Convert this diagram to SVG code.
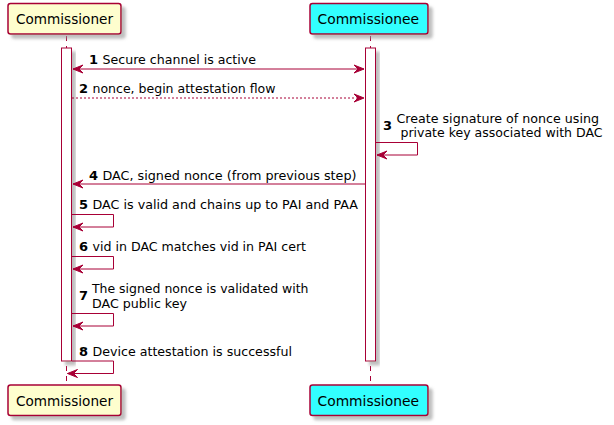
<svg xmlns="http://www.w3.org/2000/svg" width="614" height="425" viewBox="0 0 614 425">
<style>
.box{stroke:#A80036;stroke-width:1.5;filter:url(#sh)}
.act{fill:#FFFFFF;stroke:#A80036;stroke-width:1;filter:url(#sh)}
.life{stroke:#A80036;stroke-width:1;stroke-dasharray:5,5;fill:none}
.msg{stroke:#A80036;stroke-width:1;fill:none}
.dash{stroke-dasharray:2,2}
.head{fill:#A80036;stroke:#A80036;stroke-width:1}
.pn{font-family:"DejaVu Sans",sans-serif;font-size:14px;fill:#000}
.t{font-family:"DejaVu Sans",sans-serif;font-size:13px;fill:#000}
.n{font-family:"DejaVu Sans",sans-serif;font-size:13px;font-weight:bold;fill:#000}
</style>
<defs>
<filter id="sh" x="-20%" y="-20%" width="160%" height="160%">
<feGaussianBlur in="SourceAlpha" stdDeviation="1.5" result="b"/>
<feOffset in="b" dx="4" dy="4" result="o"/>
<feColorMatrix in="o" type="matrix" values="0 0 0 0 0.3  0 0 0 0 0.3  0 0 0 0 0.3  0 0 0 0.6 0" result="c"/>
<feMerge><feMergeNode in="c"/><feMergeNode in="SourceGraphic"/></feMerge>
</filter>
</defs>
<rect width="614" height="425" fill="#FFFFFF"/>
<g id="lifelines">
<line class="life" x1="66.5" y1="36" x2="66.5" y2="385"/>
<line class="life" x1="370.5" y1="36" x2="370.5" y2="385"/>
</g>
<g id="commissioner">
<rect class="box" x="8" y="3.5" width="113" height="30.5" rx="2.5" fill="#FEFECE"/>
<text class="pn" x="16" y="24" textLength="97" lengthAdjust="spacingAndGlyphs">Commissioner</text>
<rect class="box" x="8" y="385" width="113" height="30.5" rx="2.5" fill="#FEFECE"/>
<text class="pn" x="16" y="405.5" textLength="97" lengthAdjust="spacingAndGlyphs">Commissioner</text>
<rect class="act" x="61.5" y="48" width="10" height="313"/>
</g>
<g id="commissionee">
<rect class="box" x="310" y="3.5" width="118" height="30.5" rx="2.5" fill="#33FFFF"/>
<text class="pn" x="317.5" y="24" textLength="101.5" lengthAdjust="spacingAndGlyphs">Commissionee</text>
<rect class="box" x="310" y="385" width="118" height="30.5" rx="2.5" fill="#33FFFF"/>
<text class="pn" x="317.5" y="405.5" textLength="101.5" lengthAdjust="spacingAndGlyphs">Commissionee</text>
<rect class="act" x="365.5" y="48" width="10" height="313"/>
</g>
<g id="connectors">
<!-- 1 -->
<line class="msg" x1="73" y1="69" x2="364" y2="69"/>
<polygon class="head" points="83,65 73,69 83,73 79,69"/>
<polygon class="head" points="354,65 364,69 354,73 358,69"/>
<text class="n" x="89" y="64">1</text><text class="t" x="102.5" y="64" textLength="153.5" lengthAdjust="spacingAndGlyphs">Secure channel is active</text>
<!-- 2 -->
<line class="msg dash" x1="72" y1="98" x2="364" y2="98"/>
<polygon class="head" points="354,94 364,98 354,102 358,98"/>
<text class="n" x="79" y="93">2</text><text class="t" x="92.5" y="93" textLength="183" lengthAdjust="spacingAndGlyphs">nonce, begin attestation flow</text>
<!-- 3 -->
<polyline class="msg" points="376,142.5 417.5,142.5 417.5,155 377,155"/>
<polygon class="head" points="387,151 377,155 387,159 383,155"/>
<text class="n" x="383" y="129.5">3</text>
<text class="t" x="396.5" y="122.5" textLength="202.5" lengthAdjust="spacingAndGlyphs">Create signature of nonce using</text>
<text class="t" x="396.5" y="136.5" xml:space="preserve" textLength="206" lengthAdjust="spacingAndGlyphs"> private key associated with DAC</text>
<!-- 4 -->
<line class="msg" x1="73" y1="184" x2="365" y2="184"/>
<polygon class="head" points="83,180 73,184 83,188 79,184"/>
<text class="n" x="89" y="180">4</text><text class="t" x="102.5" y="180" textLength="254" lengthAdjust="spacingAndGlyphs">DAC, signed nonce (from previous step)</text>
<!-- 5 -->
<polyline class="msg" points="72,214.5 113.5,214.5 113.5,227 73,227"/>
<polygon class="head" points="83,223 73,227 83,231 79,227"/>
<text class="n" x="79" y="209">5</text><text class="t" x="92.5" y="209" textLength="265.5" lengthAdjust="spacingAndGlyphs">DAC is valid and chains up to PAI and PAA</text>
<!-- 6 -->
<polyline class="msg" points="72,256.5 113.5,256.5 113.5,269 73,269"/>
<polygon class="head" points="83,265 73,269 83,273 79,269"/>
<text class="n" x="79" y="251">6</text><text class="t" x="92.5" y="251" textLength="213.5" lengthAdjust="spacingAndGlyphs">vid in DAC matches vid in PAI cert</text>
<!-- 7 -->
<polyline class="msg" points="72,313.5 113.5,313.5 113.5,326 73,326"/>
<polygon class="head" points="83,322 73,326 83,330 79,326"/>
<text class="n" x="79" y="300">7</text>
<text class="t" x="92" y="293" textLength="216.5" lengthAdjust="spacingAndGlyphs">The signed nonce is validated with</text>
<text class="t" x="92" y="308" textLength="95" lengthAdjust="spacingAndGlyphs">DAC public key</text>
<!-- 8 -->
<polyline class="msg" points="72,361 113.5,361 113.5,373.5 67.5,373.5"/>
<polygon class="head" points="77.5,369.5 67.5,373.5 77.5,377.5 73.5,373.5"/>
<text class="n" x="79" y="356">8</text><text class="t" x="92.5" y="356" textLength="199.5" lengthAdjust="spacingAndGlyphs">Device attestation is successful</text>
</g>
</svg>
